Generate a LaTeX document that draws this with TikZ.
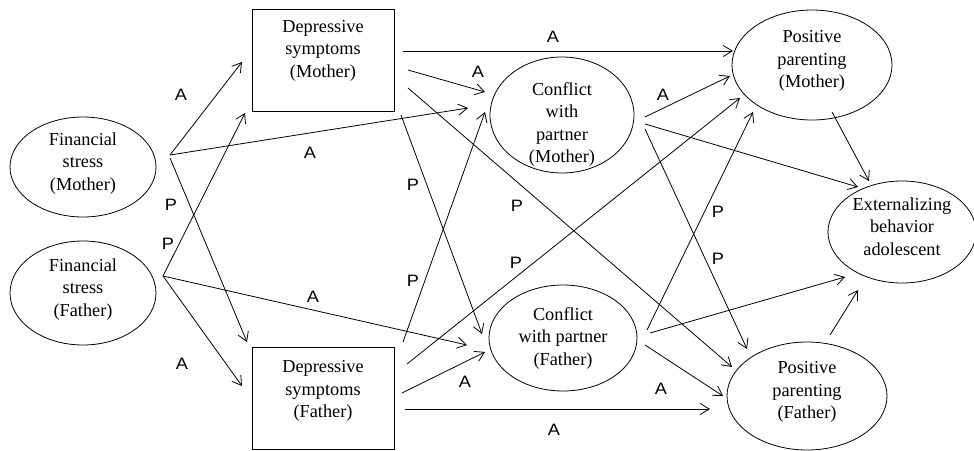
\documentclass[tikz,border=0pt]{standalone}
\usepackage{fontspec}
\setmainfont{Liberation Serif}
\newfontfamily\pathfont[FakeStretch=1.1]{Liberation Sans}
\usetikzlibrary{shapes.geometric,arrows.meta}
\begin{document}
\begin{tikzpicture}[x=1pt,y=-1pt,
  every node/.style={inner sep=0pt},
  var/.style={draw, line width=0.8pt, ellipse, align=center,
    font=\fontsize{18.3}{22.5}\selectfont},
  box/.style={draw, line width=0.8pt, rectangle, align=center,
    minimum width=142pt, minimum height=102pt,
    font=\fontsize{18.3}{22.5}\selectfont},
  link/.style={line width=0.8pt, -{Straight Barb[length=9pt,width=11pt]}},
  tag/.style={font=\pathfont\fontsize{16.5}{18}\selectfont}
]
\useasboundingbox (0,0) rectangle (974,450);

% variables
\node[var, minimum width=146pt, minimum height=100pt] (fsm) at (83,167)
  {Financial\\stress\\(Mother)\\[-11pt]\mbox{}};
\node[var, minimum width=146pt, minimum height=104pt] (fsf) at (83,293)
  {Financial\\stress\\(Father)\\[-11pt]\mbox{}};
\node[box] (dsm) at (323,60) {Depressive\\symptoms\\(Mother)\\\mbox{}};
\node[box] (dsf) at (323,398) {Depressive\\symptoms\\(Father)\\[-5pt]\mbox{}};
\node[var, minimum width=144pt, minimum height=116pt] (cpm) at (562,115)
  {Conflict\\with\\partner\\(Mother)\\[-38pt]\mbox{}};
\node[var, minimum width=148pt, minimum height=106pt] (cpf) at (563,338)
  {Conflict\\with partner\\(Father)};
\node[var, minimum width=160pt, minimum height=110pt] (ppm) at (812,65)
  {Positive\\parenting\\(Mother)\\[-11pt]\mbox{}};
\node[var, minimum width=160pt, minimum height=108pt] (ppf) at (807,396)
  {Positive\\parenting\\(Father)\\[-11pt]\mbox{}};
\node[var, minimum width=148pt, minimum height=102pt] (ext) at (902,232)
  {Externalizing\\behavior\\adolescent\\[-11pt]\mbox{}};

% paths from financial stress
\draw[link] ([shift={(87,-12)}]fsm.center) -- ([shift={(-81,2)}]dsm.center);
\draw[link] ([shift={(87,-12)}]fsm.center) -- ([shift={(-94,-7)}]cpm.center);
\draw[link] ([shift={(87,-9)}]fsm.center) -- ([shift={(-76,-56)}]dsf.center);
\draw[link] ([shift={(80,-17)}]fsf.center) -- ([shift={(-78,53)}]dsm.center);
\draw[link] ([shift={(80,-17)}]fsf.center) -- ([shift={(-81,-12)}]dsf.center);
\draw[link] ([shift={(80,-17)}]fsf.center) -- ([shift={(-96,7)}]cpf.center);

% paths from depressive symptoms
\draw[link] ([shift={(80,-9)}]dsm.center) -- ([shift={(-79,-14)}]ppm.center);
\draw[link] ([shift={(85,10)}]dsm.center) -- ([shift={(-77,-23)}]cpm.center);
\draw[link] ([shift={(85,28)}]dsm.center) -- ([shift={(-75,-29)}]ppf.center);
\draw[link] ([shift={(78,55)}]dsm.center) -- ([shift={(-81,-4)}]cpf.center);
\draw[link] ([shift={(80,-56)}]dsf.center) -- ([shift={(-77,-3)}]cpm.center);
\draw[link] ([shift={(84,-34)}]dsf.center) -- ([shift={(-72,33)}]ppm.center);
\draw[link] ([shift={(79,-5)}]dsf.center) -- ([shift={(-78,14)}]cpf.center);
\draw[link] ([shift={(82,11)}]dsf.center) -- ([shift={(-97,13)}]ppf.center);

% paths from conflict with partner
\draw[link] ([shift={(83,2)}]cpm.center) -- ([shift={(-82,11)}]ppm.center);
\draw[link] ([shift={(83,9)}]cpm.center) -- ([shift={(-44,-45)}]ext.center);
\draw[link] ([shift={(83,14)}]cpm.center) -- ([shift={(-60,-47)}]ppf.center);
\draw[link] ([shift={(84,-8)}]cpf.center) -- ([shift={(-59,47)}]ppm.center);
\draw[link] ([shift={(87,-5)}]cpf.center) -- ([shift={(-57,45)}]ext.center);
\draw[link] ([shift={(82,7)}]cpf.center) -- ([shift={(-84,0)}]ppf.center);

% paths from positive parenting
\draw[link] ([shift={(20,47)}]ppm.center) -- ([shift={(-33,-51)}]ext.center);
\draw[link] ([shift={(23,-61)}]ppf.center) -- ([shift={(-44,58)}]ext.center);

% path labels
\node[tag] (t1) at (181,95) {A};
\node[tag] (t2) at (310,153) {A};
\node[tag] (t3) at (171,205) {P};
\node[tag] (t4) at (168,244) {P};
\node[tag] (t5) at (182,364) {A};
\node[tag] (t6) at (313,297) {A};
\node[tag] (t7) at (553,37) {A};
\node[tag] (t8) at (478,72) {A};
\node[tag] (t9) at (413,185) {P};
\node[tag] (t10) at (517,206) {P};
\node[tag] (t11) at (413,281) {P};
\node[tag] (t12) at (516,263) {P};
\node[tag] (t13) at (465,382) {A};
\node[tag] (t14) at (554,430) {A};
\node[tag] (t15) at (663,95) {A};
\node[tag] (t16) at (718,212) {P};
\node[tag] (t17) at (718,259) {P};
\node[tag] (t18) at (661,389) {A};
\end{tikzpicture}
\end{document}
